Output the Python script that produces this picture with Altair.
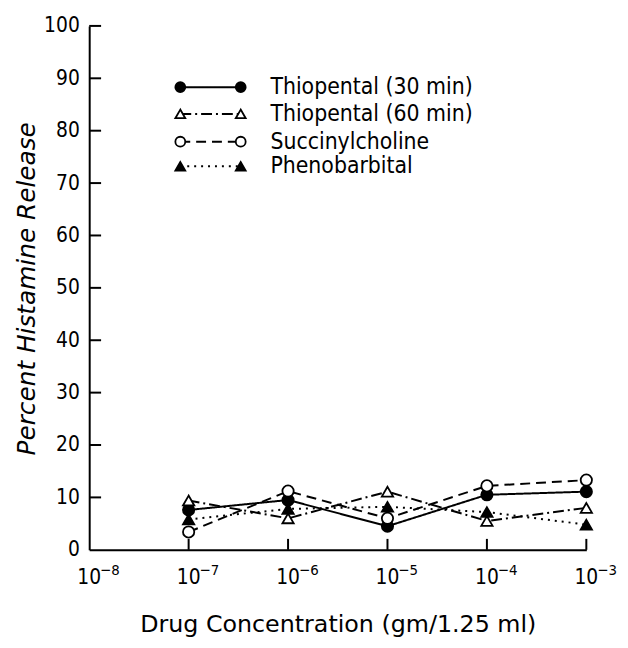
import altair as alt
import pandas as pd

# ---- data ----
conc = [1e-7, 1e-6, 1e-5, 1e-4, 1e-3]
series = ["Thiopental (30 min)", "Thiopental (60 min)", "Succinylcholine", "Phenobarbital"]
thio30 = [7.6, 9.5, 4.5, 10.5, 11.1]
thio60 = [9.4, 6.0, 11.1, 5.5, 8.0]
succ = [3.4, 11.2, 6.0, 12.2, 13.3]
pheno = [5.8, 7.8, 8.2, 7.2, 4.8]

y_tick_values = [10, 20, 30, 40, 50, 60, 70, 80, 90, 100]
x_tick_values = [1e-8, 1e-7, 1e-6, 1e-5, 1e-4, 1e-3]
x_tick_base = ["10", "10", "10", "10", "10", "10"]
x_tick_exp = ["−8", "−7", "−6", "−5", "−4", "−3"]
legend_rows = [88.3, 83.2, 77.9, 73.2]

rows = []
for name, vals in zip(series, [thio30, thio60, succ, pheno]):
    for c, v in zip(conc, vals):
        rows.append({"series": name, "conc": c, "value": v})
df = pd.DataFrame(rows)
leg = pd.DataFrame({"series": series, "value": legend_rows})
xt = pd.DataFrame({"conc": x_tick_values, "base": x_tick_base, "exp": x_tick_exp})
yt = pd.DataFrame({"value": y_tick_values})

NARROW = "Liberation Sans Narrow, DejaVu Sans Condensed, DejaVu Sans, sans-serif"
WIDE = "DejaVu Sans, sans-serif"

xscale = alt.Scale(type="log", domain=[1e-8, 1e-3], nice=False)
yscale = alt.Scale(domain=[0, 100], nice=False)
dash_scale = alt.Scale(domain=series, range=[[1, 0], [11, 4, 2, 4], [10, 6], [2, 5]])
shape_scale = alt.Scale(domain=series, range=["circle", "triangle-up", "circle", "triangle-up"])
fill_scale = alt.Scale(domain=series, range=["black", "white", "white", "black"])

xaxis = alt.Axis(values=x_tick_values, labels=False, ticks=False, grid=False,
                 domainColor="black", domainWidth=2,
                 title="Drug Concentration (gm/1.25 ml)", titleFont=WIDE, titleFontSize=24,
                 titleFontWeight="normal", titleColor="black", titlePadding=64)
yaxis = alt.Axis(values=[0] + y_tick_values, ticks=False, grid=False,
                 domainColor="black", domainWidth=2,
                 labelFont=NARROW, labelFontSize=21, labelColor="black", labelPadding=10,
                 title="Percent Histamine Release", titleFont=WIDE, titleFontSize=25,
                 titleFontStyle="italic", titleFontWeight="normal", titleColor="black",
                 titleX=-63, titleY=265, titleAngle=270, titleAlign="center",
                 titleBaseline="middle")

X = alt.X("conc:Q", scale=xscale, axis=xaxis)
Y = alt.Y("value:Q", scale=yscale, axis=yaxis)

lines = alt.Chart(df).mark_line(color="black", strokeWidth=2).encode(
    x=X, y=Y,
    detail="series:N",
    strokeDash=alt.StrokeDash("series:N", scale=dash_scale, legend=None),
)
points = alt.Chart(df).mark_point(filled=True, size=130, stroke="black", strokeWidth=1.8, opacity=1).encode(
    x=X, y=Y,
    shape=alt.Shape("series:N", scale=shape_scale, legend=None),
    fill=alt.Fill("series:N", scale=fill_scale, legend=None),
)

yticks = alt.Chart(yt).mark_rule(color="black", strokeWidth=2).encode(
    y=Y, x=alt.value(0), x2=alt.value(12))
xticks = alt.Chart(xt[xt.conc > 1e-8]).mark_rule(color="black", strokeWidth=2).encode(
    x=X, y=alt.value(529), y2=alt.value(518))
xlab_base = alt.Chart(xt).mark_text(font=NARROW, fontSize=21, color="black", align="center",
                                    baseline="middle", dx=0).encode(
    x=X, y=alt.value(558), text="base:N")
xlab_exp = alt.Chart(xt).mark_text(font=NARROW, fontSize=15, color="black", align="left",
                                   baseline="middle", dx=11).encode(
    x=X, y=alt.value(549), text="exp:N")

leg_line = alt.Chart(leg).mark_rule(color="black", strokeWidth=2).encode(
    x=alt.value(92), x2=alt.value(153), y=Y,
    strokeDash=alt.StrokeDash("series:N", scale=dash_scale, legend=None))
leg_pts_l = alt.Chart(leg).mark_point(filled=True, size=100, stroke="black", strokeWidth=1.8, opacity=1).encode(
    x=alt.value(92), y=Y,
    shape=alt.Shape("series:N", scale=shape_scale, legend=None),
    fill=alt.Fill("series:N", scale=fill_scale, legend=None))
leg_pts_r = alt.Chart(leg).mark_point(filled=True, size=100, stroke="black", strokeWidth=1.8, opacity=1).encode(
    x=alt.value(153), y=Y,
    shape=alt.Shape("series:N", scale=shape_scale, legend=None),
    fill=alt.Fill("series:N", scale=fill_scale, legend=None))
leg_text = alt.Chart(leg).mark_text(font=NARROW, fontSize=23, color="black", align="left",
                                    baseline="middle").encode(
    x=alt.value(183), y=Y, text="series:N")

chart = alt.layer(
    lines, points, yticks, xticks, xlab_base, xlab_exp,
    leg_line, leg_pts_l, leg_pts_r, leg_text
).properties(
    width=502, height=529,
    autosize=alt.AutoSizeParams(type="none"),
    padding={"left": 82, "top": 15, "right": 34, "bottom": 88},
    background="white",
).configure_view(stroke=None).configure_axis(grid=False, ticks=False)

chart.save("out.html", embed_options={"renderer": "svg", "actions": False})
